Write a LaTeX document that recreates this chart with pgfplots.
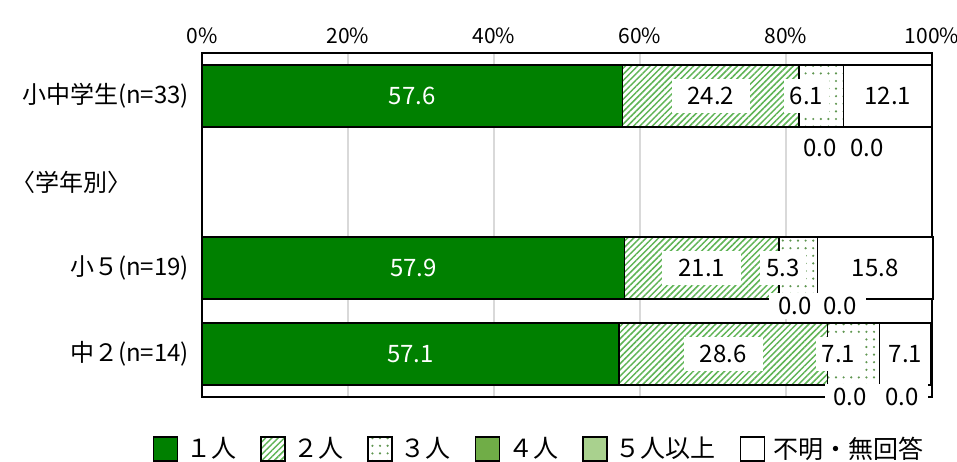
\documentclass[border=0pt]{standalone}
\usepackage{pgfplots}
\pgfplotsset{compat=1.18}
\usepackage{pgfplotstable}
\usepackage{fontspec}
\setmainfont{Noto Sans CJK JP}
\usetikzlibrary{patterns.meta}
\definecolor{gone}{RGB}{0,128,0}
\definecolor{ghatch}{RGB}{95,180,85}
\definecolor{gdot}{RGB}{95,150,80}
\definecolor{gfour}{RGB}{112,173,71}
\definecolor{gfive}{RGB}{169,209,142}
\definecolor{gridc}{RGB}{217,217,217}

\pgfplotstableread{
y p1 p2 p3 p4 p5 p6
0 57.6 24.2 6.1 0.0 0.0 12.1
2 57.9 21.1 5.3 0.0 0.0 15.8
3 57.1 28.6 7.1 0.0 0.0 7.1
}\datatable

\tikzset{
  vl/.style={font=\fontsize{12}{14}\selectfont, inner sep=0pt},
  wl/.style={vl, text=white},
  bl/.style={vl, fill=white, inner xsep=8pt, inner ysep=4pt},
  sl/.style={vl, fill=white, inner xsep=3pt, inner ysep=4pt, xshift=-7.5pt},
  zl/.style={vl, fill=white, inner xsep=4.5pt, inner ysep=2pt},
}

\begin{document}
\begin{tikzpicture}
\path[use as bounding box] (0,0) rectangle (478.5pt,230.5pt);
\begin{axis}[
  at={(101pt,32pt)}, anchor=south west,
  scale only axis, width=365pt, height=172pt,
  xbar stacked, bar width=31pt,
  xmin=0, xmax=100, ymin=-0.5, ymax=3.5, y dir=reverse,
  xtick={0,20,...,100},
  xticklabel pos=upper,
  xticklabel={\pgfmathprintnumber{\tick}\%},
  xticklabel style={font=\fontsize{10.5}{12}\selectfont, yshift=1pt},
  /pgf/number format/assume math mode=true,
  xmajorgrids, grid style={gridc, line width=0.8pt},
  major tick length=0pt,
  ytick={0,2,3},
  yticklabels={小中学生(n=33),小５(n=19),中２(n=14)},
  yticklabel style={font=\fontsize{12}{14}\selectfont, xshift=-3pt},
  axis line style={black, line width=1pt},
  legend columns=6,
  legend image code/.code={\draw[#1, line width=0.7pt] (0pt,-6pt) rectangle (12pt,6pt);},
  legend style={draw=none, at={(0.463,-0.151)}, anchor=center,
    font=\fontsize{12.5}{14}\selectfont,
    /tikz/every even column/.append style={column sep=10pt},
    /tikz/every odd column/.append style={column sep=2pt}},
  clip=false,
]
\addplot[fill=gone, draw=black, line width=0.8pt] table[x=p1,y=y]{\datatable};
\addplot[draw=black, line width=0.8pt, preaction={fill=white},
  pattern={Lines[angle=45,distance=2.2pt,line width=0.75pt]}, pattern color=ghatch] table[x=p2,y=y]{\datatable};
\addplot[draw=black, line width=0.8pt, preaction={fill=white},
  pattern={Dots[distance=3.8pt,radius=0.6pt]}, pattern color=gdot] table[x=p3,y=y]{\datatable};
\addplot[fill=gfour, draw=black, line width=0.8pt] table[x=p4,y=y]{\datatable};
\addplot[fill=gfive, draw=black, line width=0.8pt] table[x=p5,y=y]{\datatable};
\addplot[fill=white, draw=black, line width=0.8pt] table[x=p6,y=y]{\datatable};
\legend{１人,２人,３人,４人,５人以上,不明・無回答}

\coordinate (a1) at (axis cs:28.8,0);
\coordinate (a2) at (axis cs:69.7,0);
\coordinate (a3) at (axis cs:84.85,0);
\coordinate (a6) at (axis cs:93.95,0);
\coordinate (a4) at (axis cs:84.66,0.605);
\coordinate (a5) at (axis cs:91.1,0.605);
\coordinate (b1) at (axis cs:28.95,2);
\coordinate (b2) at (axis cs:68.45,2);
\coordinate (b3) at (axis cs:81.65,2);
\coordinate (b6) at (axis cs:92.2,2);
\coordinate (b4) at (axis cs:81.2,2.44);
\coordinate (b5) at (axis cs:87.4,2.44);
\coordinate (c1) at (axis cs:28.55,3);
\coordinate (c2) at (axis cs:71.4,3);
\coordinate (c3) at (axis cs:89.25,3);
\coordinate (c6) at (axis cs:96.35,3);
\coordinate (c4) at (axis cs:88.8,3.5);
\coordinate (c5) at (axis cs:95.9,3.5);
\coordinate (hd) at (axis cs:0,1);
\end{axis}
% row 0
\node[wl] at (a1) {57.6};
\node[bl] at (a2) {24.2};
\node[sl] at (a3) {6.1};
\node[bl] at (a6) {12.1};
\node[zl] at (a4) {0.0};
\node[zl] at (a5) {0.0};
% row 2
\node[wl] at (b1) {57.9};
\node[bl] at (b2) {21.1};
\node[sl] at (b3) {5.3};
\node[bl] at (b6) {15.8};
\node[zl] at (b4) {0.0};
\node[zl] at (b5) {0.0};
% row 3
\node[wl] at (c1) {57.1};
\node[bl] at (c2) {28.6};
\node[sl] at (c3) {7.1};
\node[vl, fill=white, inner xsep=2pt, inner ysep=4pt] at (c6) {7.1};
\node[zl] at (c4) {0.0};
\node[zl] at (c5) {0.0};
% group heading
\node[anchor=west, font=\fontsize{12}{14}\selectfont] at ([xshift=-99pt]hd) {〈学年別〉};
\end{tikzpicture}
\end{document}
